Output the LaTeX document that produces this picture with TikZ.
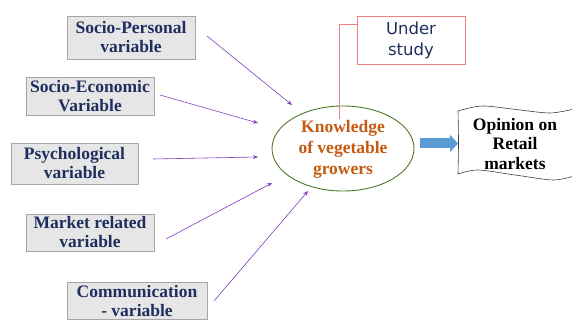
\documentclass[tikz,border=0pt]{standalone}
\usepackage{fontspec}
\setmainfont{Liberation Serif}
\newfontfamily\dvsans{DejaVu Sans}
\usetikzlibrary{arrows.meta,calc,shadows}
\definecolor{navy}{HTML}{1F2E5E}
\definecolor{boxfill}{HTML}{E6E6E6}
\definecolor{boxline}{HTML}{A6A6A6}
\definecolor{purp}{HTML}{7F3FBF}
\definecolor{ellgreen}{HTML}{4E7A2A}
\definecolor{orng}{HTML}{C55A11}
\definecolor{coral}{HTML}{F08080}
\definecolor{bluearr}{HTML}{5B9BD5}
\tikzset{
  varbox/.style={draw=boxline, fill=boxfill, line width=0.9pt, inner sep=0pt, align=center,
    text=navy, font=\fontsize{17.5}{19}\selectfont\bfseries, anchor=center,
    drop shadow={shadow xshift=1pt, shadow yshift=-1pt, fill=gray!55, opacity=0.7}},
  infl/.style={draw=purp, line width=0.6pt, -{Stealth[length=5pt,width=4pt]}},
}
\begin{document}
\begin{tikzpicture}[x=1pt,y=-1pt]
\useasboundingbox (0,0) rectangle (572,320);
\fill[white] (0,0) rectangle (572,320);
% variable boxes
\node[varbox, minimum width=128pt, minimum height=43pt] (b1) at (131,37.5) {Socio-Personal\\variable};
\node[varbox, minimum width=128pt, minimum height=38pt] (b2) at (90,96) {Socio-Economic\\Variable};
\node[varbox, minimum width=127pt, minimum height=41pt] (b3) at (74.5,163.5) {Psychological\\variable};
\node[varbox, minimum width=128pt, minimum height=37pt] (b4) at (90,232.5) {Market related\\variable};
\node[varbox, minimum width=140pt, minimum height=37pt] (b5) at (137,301) {Communication\\- variable};
% central ellipse
\draw[ellgreen, line width=0.9pt] (343,148.5) ellipse [x radius=71, y radius=42.5];
\node[align=center, text=orng, font=\fontsize{17.5}{21}\selectfont\bfseries] (kn) at (343,149) {Knowledge\\of vegetable\\growers};
% influence arrows
\coordinate (s1) at (207,36);  \coordinate (e1) at (292,105);
\coordinate (s2) at (160,95);  \coordinate (e2) at (258,123);
\coordinate (s3) at (153,159); \coordinate (e3) at (258,157);
\coordinate (s4) at (166,239); \coordinate (e4) at (272,183);
\coordinate (s5) at (214,301); \coordinate (e5) at (308,191);
\draw[infl] (s1) -- (e1);
\draw[infl] (s2) -- (e2);
\draw[infl] (s3) -- (e3);
\draw[infl] (s4) -- (e4);
\draw[infl] (s5) -- (e5);
% under study
\node[draw=coral, line width=0.9pt, minimum width=108pt, minimum height=48pt, inner sep=0pt,
  align=center, text=navy, font=\dvsans\fontsize{16.5}{21}\selectfont] (us) at (411,40) {Under\\study};
\coordinate (uc) at (339,119);
\draw[coral, line width=0.9pt] (us.west |- 0,24) -- (339,24) -- (uc);
% opinion shape
\fill[white] plot[smooth] coordinates {(458,111)(482,106)(516,109.5)(550,113)(574,109)}
  -- (574,176) -- plot[smooth] coordinates {(574,176)(553,180)(515,175)(478,170)(458,174)} -- cycle;
\draw[black!75, line width=0.6pt] plot[smooth] coordinates {(574,109)(550,113)(516,109.5)(482,106)(458,111)}
  -- plot[smooth] coordinates {(458,111)(458.5,142)(458,174)}
  -- plot[smooth] coordinates {(458,174)(478,170)(515,175)(553,180)(574,176)};
\node[align=center, font=\fontsize{17.5}{19.5}\selectfont\bfseries] (op) at (515,144) {Opinion on\\Retail\\markets};
\coordinate (opw) at (458,143.5);
% big blue arrow
\draw[bluearr, line width=10pt, -{Triangle[length=8pt,width=17pt]}] (420,143.5) -- (opw);
\end{tikzpicture}
\end{document}
